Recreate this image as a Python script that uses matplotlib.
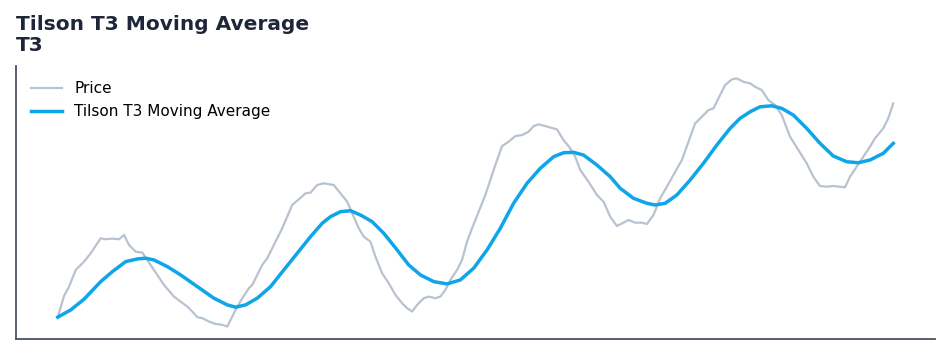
import matplotlib
matplotlib.use("Agg")
import matplotlib.pyplot as plt

# Price series (time index, price)
price_t = [0, 6.3, 11.3, 18, 26.3, 33, 43, 48, 54.7, 61.3, 66.3, 71.3, 78, 84.7, 96.3, 106.3,
           116.3, 123, 129.7, 134.7, 139.7, 144.7, 151.3, 158, 164.7, 169.7, 173, 178, 184.7,
           191.3, 194.7, 199.7, 204.7, 209.7, 214.7, 219.7, 224.7, 229.7, 234.7, 241.3, 248,
           253, 259.7, 266.3, 276.3, 283, 289.7, 296.3, 301.3, 306.3, 313, 318, 324.7, 331.3,
           338, 344.7, 349.7, 354.7, 359.7, 366.3, 371.3, 378, 383, 388, 393, 399.7, 404.7,
           409.7, 414.7, 421.3, 428, 433, 438, 444.7, 451.3, 458, 464.7, 471.3, 476.3, 481.3,
           488, 499.7, 506.3, 513, 518, 523, 531.3, 539.7, 546.3, 553, 559.7, 566.3, 571.3,
           578, 584.7, 589.7, 596.3, 603, 609.7, 616.3, 624.7, 631.3, 638, 644.7, 651.3, 656.3,
           661.3, 668, 674.7, 679.7, 686.3, 693, 698, 704.7, 711.3, 718, 724.7, 733, 741.3,
           749.7, 756.3, 763, 769.7, 776.3, 783, 788, 793, 799.7, 806.3, 813, 818, 826.3,
           831.3, 836.3]
price = [82.7, 104, 113.3, 130, 138.3, 146.7, 161.7, 160.7, 161.3, 160.7, 165, 155, 148.3,
         147.3, 130, 115, 103.3, 98.3, 93.3, 88.3, 82.7, 81.7, 78.3, 76, 75, 73.3, 80, 90,
         101.7, 111.7, 115, 125, 135, 141.7, 151.7, 161.7, 171.7, 183.3, 195, 200.7, 206.7,
         207.3, 215, 216.7, 215, 206.7, 198.3, 183.3, 171.7, 163.3, 158.3, 143.3, 126.7, 116.7,
         105, 96.7, 91.7, 88.3, 95, 101.7, 103.3, 101.7, 103.3, 110, 120, 130, 140, 158.3,
         171.7, 188.3, 205, 220, 235, 254, 258.3, 264, 265, 268.3, 274, 275.7, 274, 270.7, 260,
         251.7, 243.3, 230, 218.3, 205, 198.3, 183.3, 174, 177.3, 180, 177.3, 177.3, 176, 185,
         201.7, 213.3, 225, 240, 258.3, 276.7, 283.3, 290, 291.7, 301.7, 315, 320.7, 321.7,
         318.3, 316.7, 313.3, 310, 300, 295, 285, 263.3, 250, 236.7, 223.3, 214, 213.3, 214,
         213.3, 212.7, 223.3, 233.3, 243.3, 253.3, 261.7, 271.7, 281.7, 296.7]

# Tilson T3 moving average (time index, value)
t3_t = [0, 13, 26.3, 43, 54.7, 68, 79.7, 88, 96.3, 109.7, 123, 139.7, 156.3, 169.7, 178, 188,
        199.7, 213, 226.3, 239.7, 253, 264.7, 273, 283, 293, 303, 314.7, 326.3, 339.7, 351.3,
        363, 376.3, 389.7, 403, 416.3, 429.7, 443, 456.3, 469.7, 483, 496.3, 506.3, 516.3,
        526.3, 539.7, 553, 563, 576.3, 589.7, 598, 608, 619.7, 633, 646.3, 659.7, 673, 683,
        693, 703, 714.7, 724.7, 736.3, 749.7, 763, 776.3, 789.7, 801.3, 813, 826.3, 836.3]
t3 = [82.7, 90, 100.7, 118.3, 128.3, 138.3, 141, 141.7, 140, 133.3, 125, 113.3, 101.7, 95,
      92.7, 95, 101.7, 113.3, 130, 146.7, 163.3, 176.7, 183.3, 188.3, 189.3, 185, 178.3, 166.7,
      150, 135, 125, 118.3, 116, 120, 131.7, 150, 171.7, 196.7, 216.7, 231.7, 243.3, 247.3,
      247.7, 245, 235, 223.3, 211.7, 201.7, 196.7, 195, 196.7, 205, 220, 236.7, 255, 271.7,
      281.7, 288.3, 293.3, 294.3, 291.7, 285, 271.7, 256.7, 244, 238.3, 237.3, 240, 246.7,
      256.7]

title_text = "Tilson T3 Moving Average\nT3"

fig = plt.figure(figsize=(9.51, 3.56), dpi=100)
ax = fig.add_axes([0.0168, 0.0478, 0.9664, 0.7668])

ax.plot(price_t, price, color="#b8c2d0", lw=1.6, label="Price",
        solid_joinstyle="round")
ax.plot(t3_t, t3, color="#0ea5e9", lw=2.5, label="Tilson T3 Moving Average",
        solid_joinstyle="round")

ax.set_xticks([])
ax.set_yticks([])
for s in ["top", "right"]:
    ax.spines[s].set_visible(False)
for s in ["left", "bottom"]:
    ax.spines[s].set_color("#4a5263")
    ax.spines[s].set_linewidth(1.3)

ax.set_title(title_text, loc="left", fontsize=14.5, fontweight="bold", color="#1e2638",
             pad=11, linespacing=1.1)
ax.legend(loc="upper left", frameon=False, fontsize=11, handlelength=2.0,
          borderaxespad=0.6)

fig.savefig("out.png", dpi=100)
